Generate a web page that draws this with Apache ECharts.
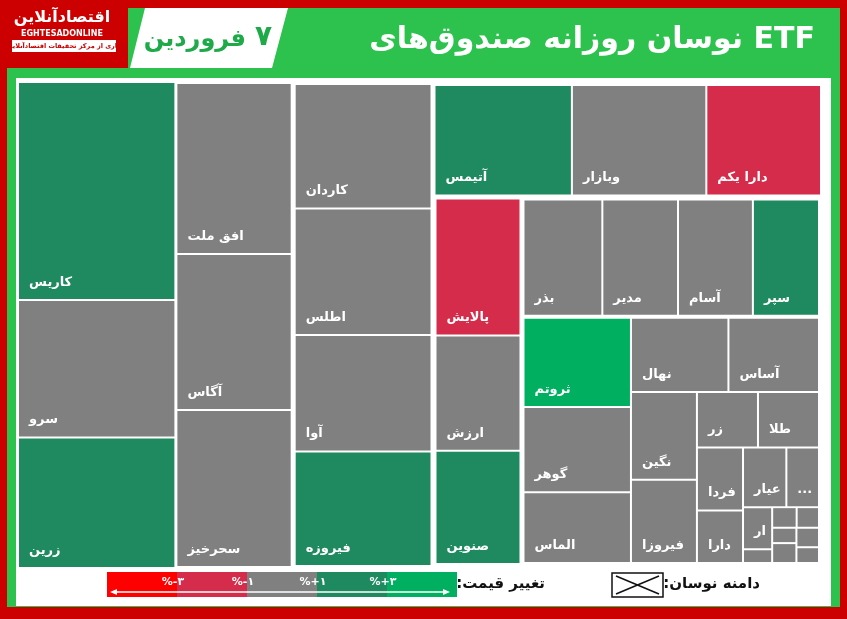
<!DOCTYPE html>
<html><head><meta charset="utf-8">
<script src="https://cdn.jsdelivr.net/npm/echarts@6/dist/echarts.min.js"></script>
<style>html,body{margin:0;padding:0;background:#cc0000}#c{width:847px;height:619px}</style>
</head><body><div id="c"></div>
<script>
const GREEN='#1f8a5f', GRAY='#808080', RED='#d42c4a', BGREEN='#00b060';
const col1Names=['کاریس','سرو','زرین'], col1Vals=[34069,21509,20410], col1Cols=[GREEN,GRAY,GREEN];
const col2Names=['افق ملت','آگاس','سحرخیز'], col2Vals=[20007,18252,18369], col2Cols=[GRAY,GRAY,GRAY];
const col3Names=['کاردان','اطلس','آوا','فیروزه'], col3Vals=[17375,17653,16263,15985], col3Cols=[GRAY,GRAY,GRAY,GREEN];
const topNames=['آتیمس','وبازار','دارا یکم'], topVals=[15707,15368,13108], topCols=[GREEN,GRAY,RED];
const c4Names=['پالایش','ارزش','صنوین'], c4Vals=[12232,10296,10120], c4Cols=[RED,GRAY,GREEN];
const c5Names=['بذر','مدیر','آسام','سپر'], c5Vals=[9702,9310,9212,8134], c5Cols=[GRAY,GRAY,GRAY,GREEN];
const restNames=['ثروتم','گوهر','الماس','نهال','آساس','نگین','فیروزا','زر','طلا','فردا','دارا','عیار','...','ارم...','...','آ...','...','ا...','...','...','...'];
const restVals=[10080,9600,7980,7600,7062,6072,5762,3551,3550,3050,2537,2714,2044,1288,420,529,483,391,506,462,374];
const restCols=[BGREEN,GRAY,GRAY,GRAY,GRAY,GRAY,GRAY,GRAY,GRAY,GRAY,GRAY,GRAY,GRAY,GRAY,GRAY,GRAY,GRAY,GRAY,GRAY,GRAY,GRAY];
const legendLabels=['%-۳','%-۱','%+۱','%+۳'];
const legendCols=['#ff0000',RED,GRAY,GREEN,BGREEN];

function leaves(n,v,c){return n.map((x,i)=>({name:x,value:v[i],itemStyle:{color:c[i]}}));}
function grp(ch){return {name:'',children:ch,value:ch.reduce((a,b)=>a+b.value,0)};}
const col1=grp(leaves(col1Names,col1Vals,col1Cols));
const col2=grp(leaves(col2Names,col2Vals,col2Cols));
const col3=grp(leaves(col3Names,col3Vals,col3Cols));
const topRow=grp(leaves(topNames,topVals,topCols));
const c4=grp(leaves(c4Names,c4Vals,c4Cols));
const rest=grp(leaves(restNames,restVals,restCols));
const c5=grp(leaves(c5Names,c5Vals,c5Cols));
const X=grp([c5,rest]);
const bottom=grp([c4,X]);
const right=grp([topRow,bottom]);
const rest2=grp([col3,right]);
const rest1=grp([col2,rest2]);
const data=[col1,rest1];

const F='DejaVu Sans';
const chart=echarts.init(document.getElementById('c'));
const g=[];
g.push({type:'rect',shape:{x:7,y:7,width:833,height:600},style:{fill:'#2dc24e'},z:-10});
g.push({type:'rect',shape:{x:16,y:78,width:815,height:528},style:{fill:'#ffffff'},z:-9});
g.push({type:'rect',shape:{x:0,y:0,width:847,height:8},style:{fill:'#cc0000'},z:-8});
g.push({type:'rect',shape:{x:0,y:0,width:128,height:68},style:{fill:'#cc0000'},z:-8});
g.push({type:'polygon',shape:{points:[[145,8],[288,8],[272,68],[130,68]]},style:{fill:'#fff'},z:1});
g.push({type:'text',style:{text:'۷',x:272,y:38,align:'right',verticalAlign:'middle',font:'bold 28px "DejaVu Sans"',fill:'#1faa4a'},z:2});
g.push({type:'text',style:{text:'فروردین',x:246,y:40,align:'right',verticalAlign:'middle',font:'bold 24px "DejaVu Sans"',fill:'#1faa4a'},z:2});
g.push({type:'text',style:{text:'نوسان روزانه صندوق‌های ETF',x:815,y:40,align:'right',verticalAlign:'middle',font:'bold 30px "DejaVu Sans"',fill:'#fff'},z:2});
g.push({type:'text',style:{text:'اقتصادآنلاین',x:62,y:18,align:'center',verticalAlign:'middle',font:'bold 16px "DejaVu Sans"',fill:'#fff'},z:2});
g.push({type:'text',style:{text:'EGHTESADONLINE',x:62,y:34,align:'center',verticalAlign:'middle',font:'bold 8px "DejaVu Sans"',fill:'#fff'},z:2});
g.push({type:'rect',shape:{x:12,y:40,width:104,height:12},style:{fill:'#fff'},z:2});
g.push({type:'text',style:{text:'کاری از مرکز تحقیقات اقتصادآنلاین',x:64,y:46,align:'center',verticalAlign:'middle',font:'bold 6.5px "DejaVu Sans"',fill:'#cc0000'},z:3});
legendCols.forEach((c,i)=>g.push({type:'rect',shape:{x:107+i*70,y:572,width:70,height:25},style:{fill:c},z:2}));
legendLabels.forEach((t,i)=>g.push({type:'text',style:{text:t,x:173+i*70,y:582,align:'center',verticalAlign:'middle',font:'bold 11px "DejaVu Sans"',fill:'#fff'},z:3}));
g.push({type:'line',shape:{x1:114,y1:592,x2:446,y2:592},style:{stroke:'#fff',lineWidth:1.5},z:3});
g.push({type:'polygon',shape:{points:[[110,592],[117,589],[117,595]]},style:{fill:'#fff'},z:3});
g.push({type:'polygon',shape:{points:[[450,592],[443,589],[443,595]]},style:{fill:'#fff'},z:3});
g.push({type:'text',style:{text:':تغییر قیمت',x:545,y:584,align:'right',verticalAlign:'middle',font:'bold 15px "DejaVu Sans"',fill:'#111'},z:3});
g.push({type:'rect',shape:{x:612,y:573,width:51,height:24},style:{fill:'#fff',stroke:'#111',lineWidth:1.5},z:3});
g.push({type:'line',shape:{x1:616,y1:576,x2:659,y2:594},style:{stroke:'#111',lineWidth:1.5},z:4});
g.push({type:'line',shape:{x1:616,y1:594,x2:659,y2:576},style:{stroke:'#111',lineWidth:1.5},z:4});
g.push({type:'text',style:{text:':دامنه نوسان',x:760,y:584,align:'right',verticalAlign:'middle',font:'bold 15px "DejaVu Sans"',fill:'#111'},z:3});

chart.setOption({
  animation:false,
  graphic:g,
  series:[{type:'treemap',left:18,top:82,width:806,height:486,roam:false,nodeClick:false,sort:false,squareRatio:1,
    breadcrumb:{show:false},
    itemStyle:{borderColor:'#fff',borderWidth:1,gapWidth:0},
    upperLabel:{show:false},
    label:{show:true,position:'insideBottomLeft',color:'#fff',fontFamily:F,fontWeight:'bold',fontSize:13,distance:5,
      formatter:p=>p.name},
    levels:[{itemStyle:{borderWidth:0,gapWidth:0}},{itemStyle:{borderWidth:0,gapWidth:0}}],
    data:data}]
});
</script></body></html>
